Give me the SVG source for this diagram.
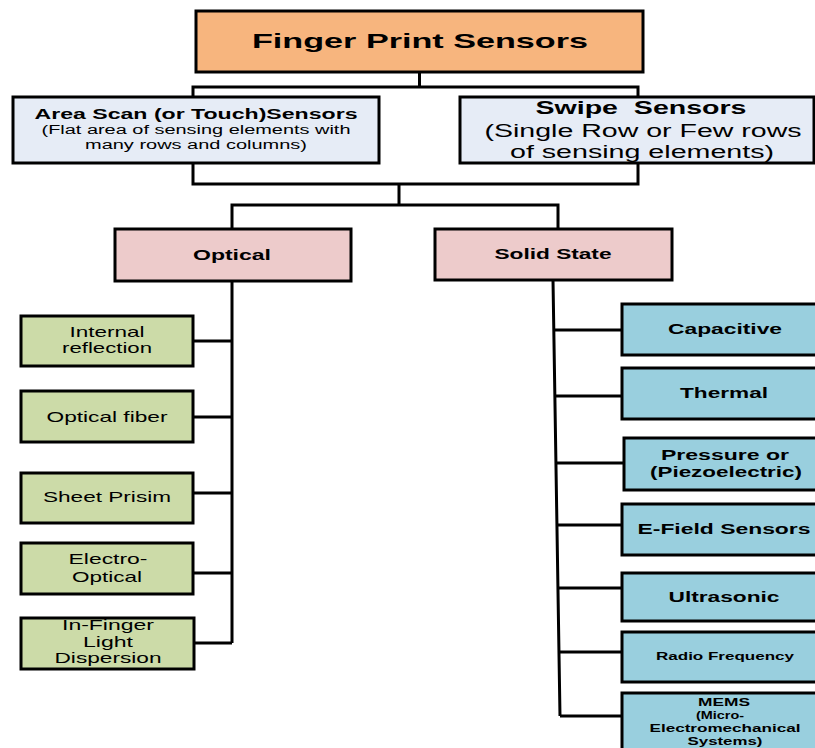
<svg xmlns="http://www.w3.org/2000/svg" width="815" height="748" viewBox="0 0 815 748">
<style>
rect{stroke:#000;stroke-width:3}
.root{fill:#F7B57E}
.lev1{fill:#E6ECF6}
.lev2{fill:#EDCBCB}
.grn{fill:#CCDBA8}
.blu{fill:#99CFDE}
text{font-family:"Liberation Sans",Arial,sans-serif;fill:#000;text-anchor:middle}
.b{font-weight:bold}
#connectors path{fill:none;stroke:#000;stroke-width:3}
</style>
<rect x="0" y="0" width="815" height="748" fill="#fff" style="stroke:none"/>
<g id="connectors">
<path d="M419.5,72 V87 M193,97 V87 H638 V97"/>
<path d="M193,163 V184 H638 V163 M399,184 V205 M232,229 V205 H558 V229"/>
<path d="M232,281 V643 M193,341 H232 M193,417 H232 M193,493 H232 M193,573 H232 M194,643 H232"/>
<path d="M553,280 L560,716 M553.8,330 H622 M554.9,396 H622 M556,463 H624 M557,525 H622 M558,588 H622 M559,652 H622 M560,716 H622"/>
</g>
<g id="root"><rect class="root" x="196" y="11" width="447" height="61"/>
<text class="b" x="420" y="48" font-size="21" textLength="336" lengthAdjust="spacingAndGlyphs">Finger Print Sensors</text></g>
<g id="area"><rect class="lev1" x="13" y="97" width="366" height="66"/>
<text class="b" x="196" y="119" font-size="14" textLength="323" lengthAdjust="spacingAndGlyphs">Area Scan (or Touch)Sensors</text>
<text x="196" y="134" font-size="12" textLength="309" lengthAdjust="spacingAndGlyphs">(Flat area of sensing elements with</text>
<text x="196" y="149" font-size="12" textLength="222" lengthAdjust="spacingAndGlyphs">many rows and columns)</text></g>
<g id="swipe"><rect class="lev1" x="460" y="97" width="354" height="66"/>
<text class="b" x="641" y="114" font-size="18" textLength="211" lengthAdjust="spacingAndGlyphs" style="white-space:pre">Swipe  Sensors</text>
<text x="643" y="137" font-size="18" textLength="317" lengthAdjust="spacingAndGlyphs">(Single Row or Few rows</text>
<text x="642" y="158" font-size="18" textLength="264" lengthAdjust="spacingAndGlyphs">of sensing elements)</text></g>
<g id="optical"><rect class="lev2" x="115" y="229" width="236" height="52"/>
<text class="b" x="232" y="260" font-size="15" textLength="78" lengthAdjust="spacingAndGlyphs">Optical</text></g>
<g id="solid"><rect class="lev2" x="435" y="229" width="237" height="51"/>
<text class="b" x="553" y="259" font-size="15" textLength="117" lengthAdjust="spacingAndGlyphs">Solid State</text></g>
<g id="internal"><rect class="grn" x="21" y="316" width="172" height="50"/>
<text x="107" y="337" font-size="15" textLength="75" lengthAdjust="spacingAndGlyphs">Internal</text>
<text x="107" y="353" font-size="15" textLength="90" lengthAdjust="spacingAndGlyphs">reflection</text></g>
<g id="fiber"><rect class="grn" x="21" y="391" width="172" height="51"/>
<text x="107" y="422" font-size="15" textLength="121" lengthAdjust="spacingAndGlyphs">Optical fiber</text></g>
<g id="prism"><rect class="grn" x="21" y="473" width="172" height="50"/>
<text x="107" y="502" font-size="15" textLength="128" lengthAdjust="spacingAndGlyphs">Sheet Prisim</text></g>
<g id="electro"><rect class="grn" x="21" y="543" width="172" height="51"/>
<text x="108" y="564" font-size="15" textLength="79" lengthAdjust="spacingAndGlyphs">Electro-</text>
<text x="107" y="582" font-size="15" textLength="70" lengthAdjust="spacingAndGlyphs">Optical</text></g>
<g id="infinger"><rect class="grn" x="21" y="618" width="173" height="51"/>
<text x="108" y="630" font-size="15" textLength="92" lengthAdjust="spacingAndGlyphs">In-Finger</text>
<text x="108" y="647" font-size="15" textLength="50" lengthAdjust="spacingAndGlyphs">Light</text>
<text x="108" y="663" font-size="15" textLength="107" lengthAdjust="spacingAndGlyphs">Dispersion</text></g>
<g id="capacitive"><rect class="blu" x="622" y="304" width="196" height="51"/>
<text class="b" x="725" y="334" font-size="14" textLength="114" lengthAdjust="spacingAndGlyphs">Capacitive</text></g>
<g id="thermal"><rect class="blu" x="622" y="368" width="196" height="51"/>
<text class="b" x="724" y="398" font-size="14" textLength="88" lengthAdjust="spacingAndGlyphs">Thermal</text></g>
<g id="pressure"><rect class="blu" x="624" y="438" width="194" height="52"/>
<text class="b" x="725" y="460" font-size="14" textLength="128" lengthAdjust="spacingAndGlyphs">Pressure or</text>
<text class="b" x="726" y="477" font-size="14" textLength="152" lengthAdjust="spacingAndGlyphs">(Piezoelectric)</text></g>
<g id="efield"><rect class="blu" x="622" y="504" width="196" height="51"/>
<text class="b" x="724" y="534" font-size="14" textLength="173" lengthAdjust="spacingAndGlyphs">E-Field Sensors</text></g>
<g id="ultrasonic"><rect class="blu" x="622" y="573" width="196" height="48"/>
<text class="b" x="724" y="602" font-size="14" textLength="111" lengthAdjust="spacingAndGlyphs">Ultrasonic</text></g>
<g id="radio"><rect class="blu" x="622" y="632" width="196" height="50"/>
<text class="b" x="725" y="660" font-size="11" textLength="138" lengthAdjust="spacingAndGlyphs">Radio Frequency</text></g>
<g id="mems"><rect class="blu" x="622" y="693" width="196" height="60"/>
<text class="b" x="724" y="706" font-size="11" textLength="52" lengthAdjust="spacingAndGlyphs">MEMS</text>
<text class="b" x="720" y="719" font-size="11" textLength="48" lengthAdjust="spacingAndGlyphs">(Micro-</text>
<text class="b" x="725" y="732" font-size="11" textLength="151" lengthAdjust="spacingAndGlyphs">Electromechanical</text>
<text class="b" x="725" y="745" font-size="11" textLength="75" lengthAdjust="spacingAndGlyphs">Systems)</text></g>
</svg>
